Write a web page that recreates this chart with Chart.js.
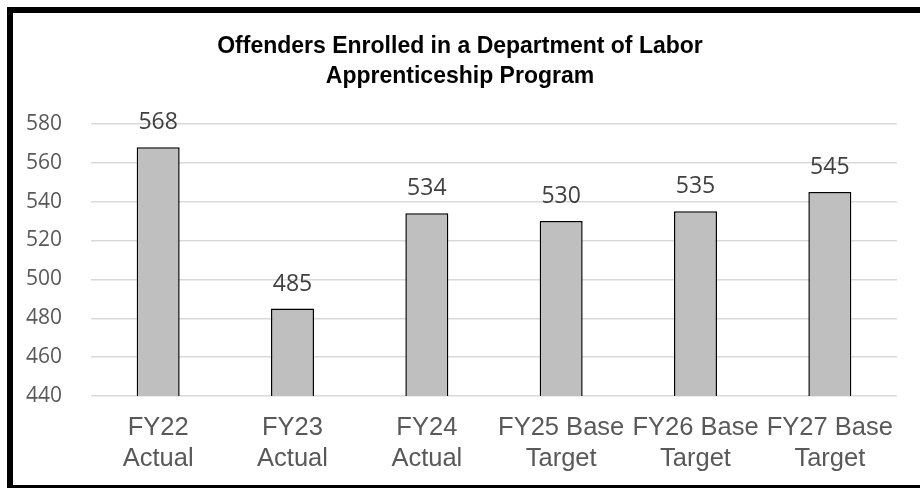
<!DOCTYPE html>
<html>
<head>
<meta charset="utf-8">
<script src="https://cdn.jsdelivr.net/npm/chart.js@4"></script>
<style>
  html, body { margin: 0; padding: 0; width: 920px; height: 488px; overflow: hidden; background: #fff; }
  #frame { position: absolute; left: 7px; top: 7px; width: 940px; height: 472px; border: 6px solid #000; }
  #chart { position: absolute; left: 0; top: 0; }
</style>
</head>
<body>
<div id="frame"></div>
<canvas id="chart" width="920" height="488"></canvas>
<script>
const categories = [
  ['FY22', 'Actual'],
  ['FY23', 'Actual'],
  ['FY24', 'Actual'],
  ['FY25 Base', 'Target'],
  ['FY26 Base', 'Target'],
  ['FY27 Base', 'Target']
];
const enrolled = [568, 485, 534, 530, 535, 545];
const yTicks = [440, 460, 480, 500, 520, 540, 560, 580];
const titleLines = ['Offenders Enrolled in a Department of Labor', 'Apprenticeship Program'];

// values drawn above each bar
const barLabels = {
  id: 'barLabels',
  afterDatasetsDraw(chart) {
    const ctx = chart.ctx;
    const meta = chart.getDatasetMeta(0);
    ctx.save();
    ctx.font = '23px "Open Sans"';
    ctx.fillStyle = '#404040';
    ctx.textAlign = 'center';
    ctx.textBaseline = 'alphabetic';
    meta.data.forEach((bar, i) => {
      ctx.fillText(String(enrolled[i]), bar.x, bar.y - 18);
    });
    ctx.restore();
  }
};

new Chart(document.getElementById('chart').getContext('2d'), {
  type: 'bar',
  data: {
    labels: categories,
    datasets: [{
      data: enrolled,
      backgroundColor: '#BFBFBF',
      borderColor: '#000000',
      borderWidth: 1.5,
      categoryPercentage: 1,
      barPercentage: 0.32
    }]
  },
  options: {
    responsive: false,
    animation: false,
    layout: { padding: { left: 23, right: 23, top: 0, bottom: 0 } },
    plugins: {
      legend: { display: false },
      tooltip: { enabled: false },
      title: {
        display: true,
        text: titleLines,
        color: '#000000',
        font: { family: '"Liberation Sans", Arial', size: 23, weight: 'bold', lineHeight: 1.28 },
        padding: { top: 32, bottom: 33 }
      }
    },
    scales: {
      y: {
        min: 440,
        max: 580,
        afterBuildTicks(scale) { scale.ticks = yTicks.map(v => ({ value: v })); },
        afterFit(scale) { scale.width = 68; },
        ticks: {
          color: '#595959',
          font: { family: '"Open Sans"', size: 21 },
          padding: 29
        },
        border: { display: false },
        grid: { color: '#D9D9D9', lineWidth: 1.5, drawTicks: false }
      },
      x: {
        afterFit(scale) { scale.height = 92; },
        ticks: {
          color: '#595959',
          font: { family: '"Liberation Sans", Arial', size: 25.5, lineHeight: 1.2 },
          padding: 17,
          maxRotation: 0,
          minRotation: 0,
          autoSkip: false
        },
        border: { display: false },
        grid: { display: false, drawTicks: false }
      }
    }
  },
  plugins: [barLabels]
});
</script>
</body>
</html>
